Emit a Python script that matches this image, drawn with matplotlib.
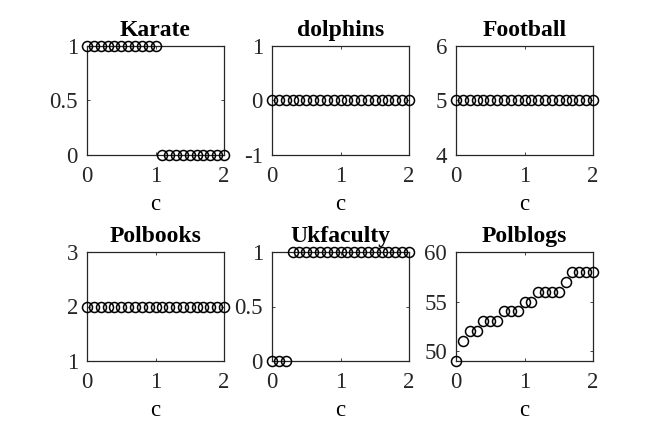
import numpy as np
import matplotlib
matplotlib.use('Agg')
import matplotlib.pyplot as plt

plt.rcParams['font.family'] = ['Liberation Serif', 'DejaVu Serif']

# x: parameter c
c = [0.0, 0.1, 0.2, 0.3, 0.4, 0.5, 0.6, 0.7, 0.8, 0.9, 1.0,
     1.1, 1.2, 1.3, 1.4, 1.5, 1.6, 1.7, 1.8, 1.9, 2.0]

karate = [1, 1, 1, 1, 1, 1, 1, 1, 1, 1, 1,
          0, 0, 0, 0, 0, 0, 0, 0, 0, 0]
dolphins = [0] * 21
football = [5] * 21
polbooks = [2] * 21
ukfaculty = [0, 0, 0, 1, 1, 1, 1, 1, 1, 1, 1,
             1, 1, 1, 1, 1, 1, 1, 1, 1, 1]
polblogs = [49, 51, 52, 52, 53, 53, 53, 54, 54, 54, 55,
            55, 56, 56, 56, 56, 57, 58, 58, 58, 58]

titles = ['Karate', 'dolphins', 'Football', 'Polbooks', 'Ukfaculty', 'Polblogs']
series = [karate, dolphins, football, polbooks, ukfaculty, polblogs]
ylims = [(0, 1), (-1, 1), (4, 6), (1, 3), (0, 1), (49, 60)]
yticks = [[0, 0.5, 1], [-1, 0, 1], [4, 5, 6], [1, 2, 3], [0, 0.5, 1], [50, 55, 60]]
ytick_labels = [['0', '0.5', '1'], ['-1', '0', '1'], ['4', '5', '6'],
                ['1', '2', '3'], ['0', '0.5', '1'], ['50', '55', '60']]

fig = plt.figure(figsize=(6.54, 4.36), dpi=100)

W, H = 654.0, 436.0
lefts = [87, 272, 456]
tops = [46, 252]
aw, ah = 137, 109
edge = '#262626'

for i in range(6):
    r, col = divmod(i, 3)
    ax = fig.add_axes([lefts[col] / W, 1 - (tops[r] + ah) / H, aw / W, ah / H])
    ax.plot(c, series[i], 'o', color='k', mfc='none', ms=7.2, mew=1.1, clip_on=False, zorder=3)
    ax.set_xlim(0, 2)
    ax.set_ylim(*ylims[i])
    ax.set_xticks([0, 1, 2])
    ax.set_xticklabels(['0', '1', '2'])
    ax.set_yticks(yticks[i])
    ax.set_yticklabels(ytick_labels[i])
    ax.tick_params(direction='in', length=2.5, width=0.6, colors=edge, labelsize=16.5,
                   top=True, right=True, pad=6.5, labelcolor='#262626')
    ax.tick_params(axis='x', pad=8)
    for s in ax.spines.values():
        s.set_linewidth(0.9)
        s.set_color(edge)
    ax.set_title(titles[i], fontsize=17, fontweight='bold', pad=7)
    ax.set_xlabel('c', fontsize=16.5, labelpad=5)

fig.savefig('out.png', dpi=100)
